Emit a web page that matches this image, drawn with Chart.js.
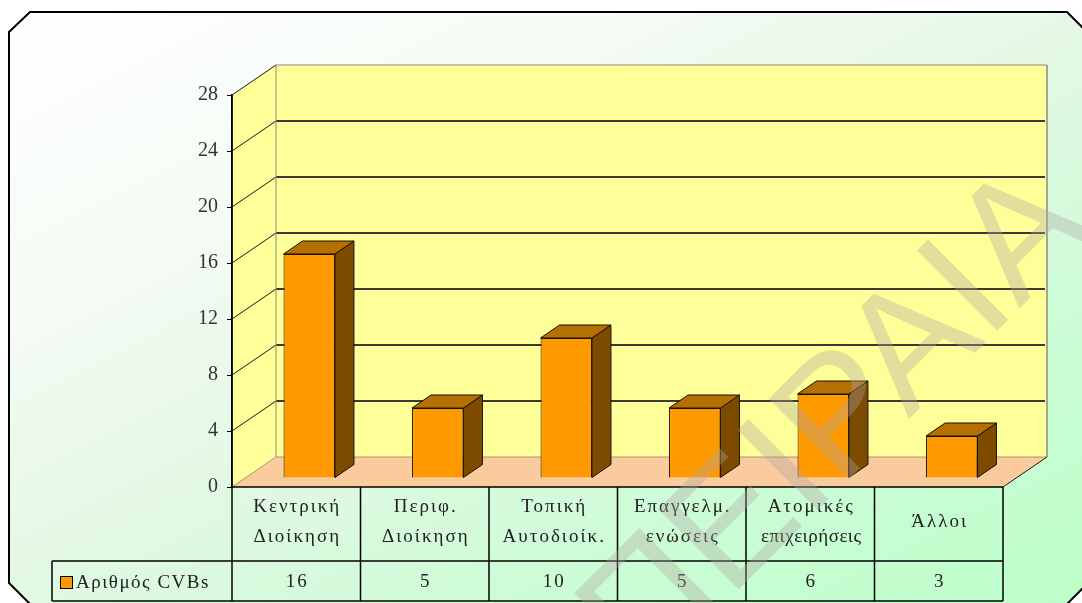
<!DOCTYPE html>
<html>
<head>
<meta charset="utf-8">
<script src="https://cdn.jsdelivr.net/npm/chart.js@4"></script>
<style>
    html, body { margin: 0; padding: 0; background: #ffffff; }
    canvas { display: block; }
</style>
</head>
<body>
<canvas id="cvbChart" width="1082" height="603"></canvas>
<script>
// chart data
const categories = [
    ["Κεντρική", "Διοίκηση"],
    ["Περιφ.", "Διοίκηση"],
    ["Τοπική", "Αυτοδιοίκ."],
    ["Επαγγελμ.", "ενώσεις"],
    ["Ατομικές", "επιχειρήσεις"],
    ["Άλλοι"]
];
const cvbCounts = [16, 5, 10, 5, 6, 3];
const seriesName = "Αριθμός CVBs";
const yMin = 0;
const yMax = 28;
const yStep = 4;
const watermarkText = "ΠΕΙΡΑΙΑ";

// 3d look
const wallDepth = { dx: 44, dy: -30 };
const barShift = { dx: 13, dy: -9 };
const barDepth = { dx: 19, dy: -13 };
const serif = "'Liberation Serif', 'Times New Roman', serif";

function poly(ctx, pts, fill, stroke, lw) {
    ctx.beginPath();
    ctx.moveTo(pts[0][0], pts[0][1]);
    for (let i = 1; i < pts.length; i++) ctx.lineTo(pts[i][0], pts[i][1]);
    ctx.closePath();
    if (fill) { ctx.fillStyle = fill; ctx.fill(); }
    if (stroke) { ctx.strokeStyle = stroke; ctx.lineWidth = lw || 1; ctx.stroke(); }
}

function line(ctx, x1, y1, x2, y2, color, lw) {
    ctx.beginPath();
    ctx.moveTo(x1, y1);
    ctx.lineTo(x2, y2);
    ctx.strokeStyle = color;
    ctx.lineWidth = lw || 1;
    ctx.stroke();
}

const backgroundAndWalls = {
    id: "backgroundAndWalls",
    beforeDraw(chart) {
        const ctx = chart.ctx;
        const area = chart.chartArea;
        const y = chart.scales.y;
        ctx.save();

        // frame with cut corners
        const grad = ctx.createLinearGradient(0, 0, 458, 915);
        grad.addColorStop(0, "#ffffff");
        grad.addColorStop(0.3, "#f4fbf4");
        grad.addColorStop(0.5, "#e4f8e4");
        grad.addColorStop(0.75, "#ccfcd6");
        grad.addColorStop(1, "#bcffc8");
        poly(ctx, [[9, 32], [30, 12], [1067, 12], [1089, 34], [1089, 582], [1067, 604], [30, 604], [9, 583]], grad, "#000000", 2);

        const fl = area.left, fr = area.right, fb = area.bottom;
        const bl = fl + wallDepth.dx, br = fr + wallDepth.dx;
        const top = y.getPixelForValue(yMax);

        // floor
        poly(ctx, [[fl, fb], [fr, fb], [br, fb + wallDepth.dy], [bl, fb + wallDepth.dy]], "#facb9d");
        // side wall
        poly(ctx, [[fl, top], [bl, top + wallDepth.dy], [bl, fb + wallDepth.dy], [fl, fb]], "#ffff99");
        // back wall
        poly(ctx, [[bl, top + wallDepth.dy], [br, top + wallDepth.dy], [br, fb + wallDepth.dy], [bl, fb + wallDepth.dy]], "#ffff99");

        // grid lines
        for (let v = yMin + yStep; v <= yMax; v += yStep) {
            const py = y.getPixelForValue(v);
            line(ctx, fl, py, bl, py + wallDepth.dy, "#1a1a1a", 1);
            if (v < yMax) line(ctx, bl, py + wallDepth.dy, br - 2, py + wallDepth.dy, "#3a3a30", 2);
        }

        // wall edges
        line(ctx, bl, top + wallDepth.dy, br, top + wallDepth.dy, "#8c8c78", 1);
        line(ctx, bl, top + wallDepth.dy, bl, fb + wallDepth.dy, "#8c8c78", 1);
        line(ctx, br, top + wallDepth.dy, br, fb + wallDepth.dy, "#8c8c78", 1.5);
        line(ctx, bl, fb + wallDepth.dy, br, fb + wallDepth.dy, "#b09070", 1);
        line(ctx, fl, fb, bl, fb + wallDepth.dy, "#b09070", 1);
        line(ctx, fr, fb, br, fb + wallDepth.dy, "#1a1a1a", 1);
        ctx.restore();
    },
    beforeDatasetsDraw(chart) {
        chart.ctx.save();
        chart.ctx.translate(barShift.dx, barShift.dy);
    },
    afterDatasetsDraw(chart) {
        const ctx = chart.ctx;
        const meta = chart.getDatasetMeta(0);
        meta.data.forEach(bar => {
            const p = bar.getProps(["x", "y", "base", "width"], true);
            const l = p.x - p.width / 2, r = p.x + p.width / 2;
            // side face
            poly(ctx, [[r, p.y], [r + barDepth.dx, p.y + barDepth.dy], [r + barDepth.dx, p.base + barDepth.dy], [r, p.base]], "#7c4b00", "#1a1000", 1);
            // top face
            poly(ctx, [[l, p.y], [l + barDepth.dx, p.y + barDepth.dy], [r + barDepth.dx, p.y + barDepth.dy], [r, p.y]], "#b47000", "#1a1000", 1);
        });
        ctx.restore();
    },
    afterDraw(chart) {
        const ctx = chart.ctx;
        const area = chart.chartArea;
        const x = chart.scales.x;
        const colW = (area.right - area.left) / categories.length;
        const rowTop = area.bottom, rowMid = 561, rowBot = 601;
        ctx.save();

        // data table grid
        line(ctx, area.left, rowTop, area.right, rowTop, "#000", 1.5);
        line(ctx, 52, rowMid, area.right, rowMid, "#000", 1.5);
        line(ctx, 52, rowBot, area.right, rowBot, "#000", 1.5);
        line(ctx, 52, rowMid, 52, rowBot, "#000", 1.5);
        line(ctx, area.left, area.top, area.left, rowBot, "#000", 1.5);
        for (let i = 1; i <= categories.length; i++) {
            const cx = area.left + colW * i;
            line(ctx, cx, rowTop, cx, rowBot, "#000", 1.5);
        }

        ctx.fillStyle = "#222";
        ctx.font = "19px " + serif;
        ctx.textAlign = "center";
        ctx.textBaseline = "middle";
        categories.forEach((lbl, i) => {
            const cx = x.getPixelForValue(i) + 1;
            if (lbl.length === 1) {
                ctx.letterSpacing = "2px";
                ctx.fillText(lbl[0], cx, 522);
            } else {
                ctx.letterSpacing = lbl[1].length > 10 ? "0.5px" : "2px";
                ctx.fillText(lbl[1], cx, 537);
                ctx.letterSpacing = "2px";
                ctx.fillText(lbl[0], cx, 507);
            }
            ctx.letterSpacing = "2px";
            ctx.fillText(String(cvbCounts[i]), cx, 582);
        });

        // legend key
        ctx.fillStyle = "#ff9900";
        ctx.fillRect(60, 576, 13, 13);
        ctx.strokeStyle = "#000";
        ctx.lineWidth = 1;
        ctx.strokeRect(60.5, 576.5, 12, 12);
        ctx.fillStyle = "#222";
        ctx.textAlign = "left";
        ctx.letterSpacing = "1.5px";
        ctx.fillText(seriesName, 76, 583);

        // watermark
        ctx.letterSpacing = "0px";
        ctx.translate(645, 683);
        ctx.rotate(-Math.PI / 4);
        ctx.font = "165px 'Liberation Sans', Arial, sans-serif";
        ctx.textBaseline = "alphabetic";
        ctx.fillStyle = "rgba(175, 165, 160, 0.36)";
        ctx.fillText(watermarkText, 0, 0);
        ctx.restore();
    }
};

new Chart(document.getElementById("cvbChart"), {
    type: "bar",
    data: {
        labels: categories,
        datasets: [{
            label: seriesName,
            data: cvbCounts,
            backgroundColor: "#ff9900",
            borderColor: "#1a1000",
            borderWidth: 1,
            categoryPercentage: 1,
            barPercentage: 0.4,
            clip: false
        }]
    },
    options: {
        responsive: false,
        animation: false,
        devicePixelRatio: 1,
        layout: { padding: { top: 95, right: 79, bottom: 116, left: 0 } },
        plugins: {
            legend: { display: false },
            tooltip: { enabled: false }
        },
        scales: {
            x: { display: false },
            y: {
                min: yMin,
                max: yMax,
                afterFit: scale => { scale.width = 232; },
                ticks: {
                    stepSize: yStep,
                    padding: 9,
                    color: "#333",
                    font: { family: serif, size: 20 }
                },
                grid: { drawOnChartArea: false, drawTicks: true, tickLength: 5, color: "#000" },
                border: { display: true, color: "#000", width: 1.5 }
            }
        }
    },
    plugins: [backgroundAndWalls]
});
</script>
</body>
</html>
